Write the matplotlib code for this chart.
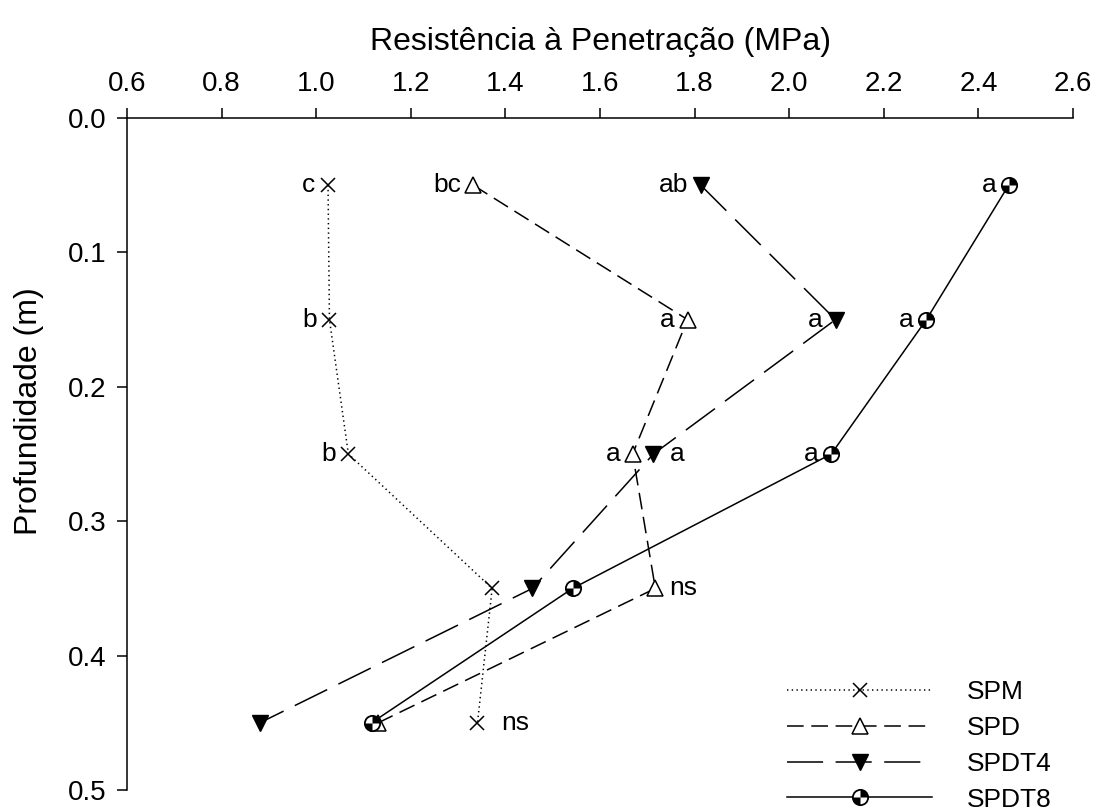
import matplotlib
matplotlib.use('Agg')
import matplotlib.pyplot as plt
from matplotlib.path import Path

plt.rcParams['font.family'] = ['Liberation Sans', 'DejaVu Sans']
plt.rcParams['lines.scale_dashes'] = False

# ── data ──────────────────────────────────────────────────────────────────────
depth = [0.05, 0.15, 0.25, 0.35, 0.45]

spm   = [1.025, 1.028, 1.068, 1.372, 1.341]
spd   = [1.332, 1.785, 1.669, 1.717, 1.131]
spdt4 = [1.813, 2.098, 1.713, 1.457, 0.881]
spdt8 = [2.464, 2.290, 2.089, 1.542, 1.117]

spm_letters   = ["c", "b", "b", "", "ns"]
spd_letters   = ["bc", "a", "a", "ns", ""]
spdt4_letters = ["ab", "a", "a", "", ""]
spdt8_letters = ["a", "a", "a", "", ""]

# labels drawn right of the marker (series, index) -> offset in points
right_side = {("SPM", 4): 17, ("SPD", 3): 10, ("SPDT4", 2): 12}

xticks = [0.6, 0.8, 1.0, 1.2, 1.4, 1.6, 1.8, 2.0, 2.2, 2.4, 2.6]
yticks = [0.0, 0.1, 0.2, 0.3, 0.4, 0.5]

# quartered circle marker: black top-right and bottom-left
quad = Path.make_compound_path(Path.wedge(0, 90), Path.wedge(180, 270))

fig = plt.figure(figsize=(11, 8.1), dpi=100)
ax = fig.add_axes([127 / 1100, 1 - 790 / 810, (1073 - 127) / 1100, (790 - 118) / 810])

lw = 1.1
fs_tick = 20
fs_label = 23
fs_text = 19
handles = []

l1, = ax.plot(spm, depth, color="black", lw=lw, dashes=(1, 2.4),
              marker="x", ms=10, mew=1.1, label="SPM")
handles.append(l1)

l2, = ax.plot(spd, depth, color="black", lw=lw, dashes=(12, 5.5),
              marker="^", ms=12, mfc="white", mec="black", mew=1.1, label="SPD")
handles.append(l2)

l3, = ax.plot(spdt4, depth, color="black", lw=lw, dashes=(26, 9),
              marker="v", ms=12, mfc="black", mec="black", mew=1.0, label="SPDT4")
handles.append(l3)

l4, = ax.plot(spdt8, depth, color="black", lw=lw, ls="-",
              marker="o", ms=11, mfc="white", mec="black", mew=1.3, label="SPDT8")
l4q, = ax.plot(spdt8, depth, ls="none", marker=quad, ms=11, mfc="black",
               mec="none")
handles.append((l4, l4q))

series = [("SPM", spm, spm_letters), ("SPD", spd, spd_letters),
          ("SPDT4", spdt4, spdt4_letters), ("SPDT8", spdt8, spdt8_letters)]
for name, xs, letters in series:
    for i, (x, y, t) in enumerate(zip(xs, depth, letters)):
        if not t:
            continue
        if (name, i) in right_side:
            ax.annotate(t, (x, y), xytext=(right_side[(name, i)], 0),
                        textcoords="offset points", ha="left", va="center",
                        fontsize=fs_text)
        else:
            ax.annotate(t, (x, y), xytext=(-9, 0), textcoords="offset points",
                        ha="right", va="center", fontsize=fs_text)

ax.set_xlim(0.6, 2.6)
ax.set_ylim(0.5, 0.0)
ax.set_xticks(xticks)
ax.set_yticks(yticks)
ax.set_xticklabels([f"{v:.1f}" for v in xticks])
ax.set_yticklabels([f"{v:.1f}" for v in yticks])
ax.xaxis.tick_top()
ax.xaxis.set_label_position("top")
ax.tick_params(axis="both", direction="out", length=7, width=1.1,
               labelsize=fs_tick, pad=8)
for side in ["right", "bottom"]:
    ax.spines[side].set_visible(False)
for side in ["left", "top"]:
    ax.spines[side].set_linewidth(1.1)

ax.set_xlabel("Resistência à Penetração (MPa)", fontsize=fs_label, labelpad=15)
ax.set_ylabel("Profundidade (m)", fontsize=fs_label)
ax.yaxis.set_label_coords(-0.088, 0.564)

ax.legend(handles, ["SPM", "SPD", "SPDT4", "SPDT8"], loc="upper left",
          bbox_to_anchor=(787 / 1100, 1 - 680 / 810), bbox_transform=fig.transFigure,
          frameon=False, fontsize=fs_text, handlelength=5.5, handletextpad=1.3,
          borderpad=0, borderaxespad=0, labelspacing=0.45)

fig.savefig("out.png", dpi=100)
